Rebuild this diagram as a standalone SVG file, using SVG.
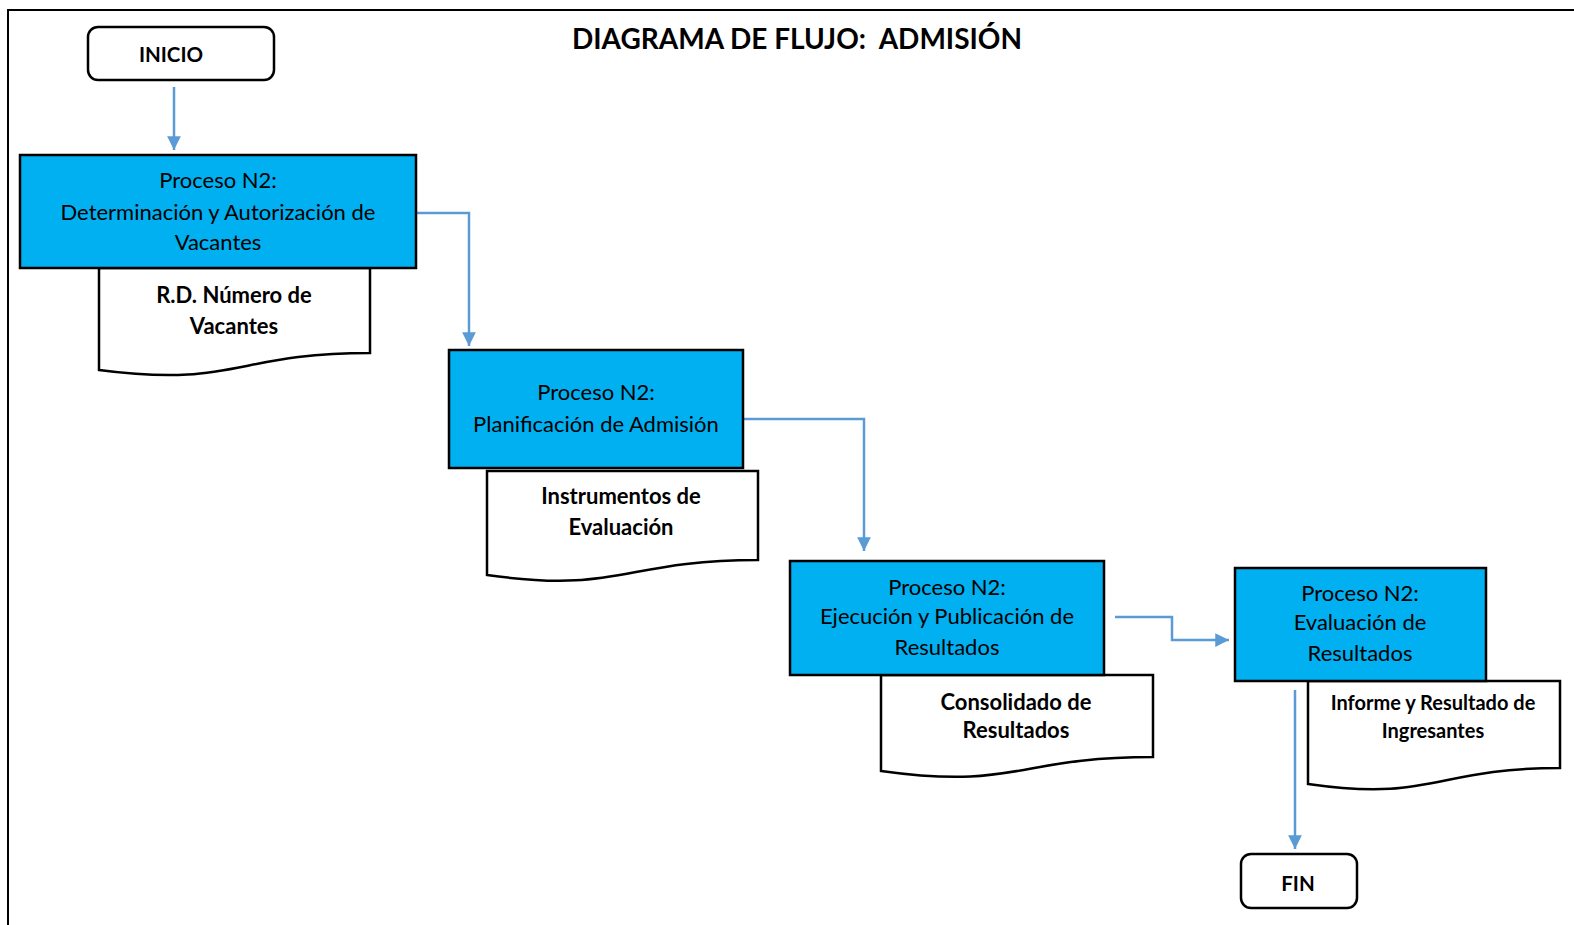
<svg xmlns="http://www.w3.org/2000/svg" width="1574" height="925" viewBox="0 0 1574 925">
<style>
.frame{fill:none;stroke:#000;stroke-width:2}
.term{fill:#fff;stroke:#000;stroke-width:2.5}
.proc{fill:#00B0F0;stroke:#000;stroke-width:2.5}
.doc{fill:#fff;stroke:#000;stroke-width:2.5}
.conn{fill:none;stroke:#5B9BD5;stroke-width:2.5}
text{font-family:Lato,"Liberation Sans",sans-serif;fill:#000;text-anchor:middle}
.pt{font-size:22px}
.dt{font-size:22px;font-weight:bold}
.tt{font-size:20.5px;font-weight:bold}
.title{font-size:28px;font-weight:bold;white-space:pre}
</style>
<defs>
<marker id="ah" viewBox="0 0 10 10" refX="10" refY="5" markerWidth="5.5" markerHeight="5.5" orient="auto" markerUnits="strokeWidth">
<path d="M0,0 L10,5 L0,10 Z" fill="#5B9BD5"/>
</marker>
</defs>
<rect width="1574" height="925" fill="#fff"/>
<path class="frame" d="M8,925 V10 H1574"/>
<text class="title" x="797" y="49" xml:space="preserve">DIAGRAMA DE FLUJO:  ADMISIÓN</text>

<g id="connectors">
<path class="conn" d="M174,87 V150" marker-end="url(#ah)"/>
<path class="conn" d="M416,213 H469 V346" marker-end="url(#ah)"/>
<path class="conn" d="M721,419 H864 V551" marker-end="url(#ah)"/>
<path class="conn" d="M1115,617 H1172 V640 H1229" marker-end="url(#ah)"/>
<path class="conn" d="M1295,690 V849" marker-end="url(#ah)"/>
</g>

<g id="inicio">
<rect class="term" x="88" y="27" width="186" height="53" rx="10"/>
<text class="tt" x="171" y="62">INICIO</text>
</g>

<g id="doc1">
<path class="doc" d="M99,268 H370 V353 C235,353 235,388 99,370 Z"/>
<text class="dt" x="234" y="303">R.D. Número de</text>
<text class="dt" x="234" y="334">Vacantes</text>
</g>
<g id="proc1">
<rect class="proc" x="20" y="155" width="396" height="113"/>
<text class="pt" x="218" y="188">Proceso N2:</text>
<text class="pt" x="218" y="220">Determinación y Autorización de</text>
<text class="pt" x="218" y="250">Vacantes</text>
</g>

<g id="doc2">
<path class="doc" d="M487,471 H758 V560 C622,560 622,594 487,575 Z"/>
<text class="dt" x="621" y="504">Instrumentos de</text>
<text class="dt" x="621" y="535">Evaluación</text>
</g>
<g id="proc2">
<rect class="proc" x="449" y="350" width="294" height="118"/>
<text class="pt" x="596" y="400">Proceso N2:</text>
<text class="pt" x="596" y="432">Planificación de Admisión</text>
</g>

<g id="doc3">
<path class="doc" d="M881,675 H1153 V757 C1017,757 1017,790 881,771 Z"/>
<text class="dt" x="1016" y="710">Consolidado de</text>
<text class="dt" x="1016" y="738">Resultados</text>
</g>
<g id="proc3">
<rect class="proc" x="790" y="561" width="314" height="114"/>
<text class="pt" x="947" y="595">Proceso N2:</text>
<text class="pt" x="947" y="624">Ejecución y Publicación de</text>
<text class="pt" x="947" y="655">Resultados</text>
</g>

<g id="doc4">
<path class="doc" d="M1308,681 H1560 V768 C1434,768 1434,802 1308,784 Z"/>
<text class="dt" x="1433" y="710" style="font-size:20px">Informe y Resultado de</text>
<text class="dt" x="1433" y="738" style="font-size:20px">Ingresantes</text>
</g>
<g id="proc4">
<rect class="proc" x="1235" y="568" width="251" height="113"/>
<text class="pt" x="1360" y="601">Proceso N2:</text>
<text class="pt" x="1360" y="630">Evaluación de</text>
<text class="pt" x="1360" y="661">Resultados</text>
</g>

<g id="fin">
<rect class="term" x="1241" y="854" width="116" height="54" rx="10"/>
<text class="tt" x="1298" y="891">FIN</text>
</g>
</svg>
